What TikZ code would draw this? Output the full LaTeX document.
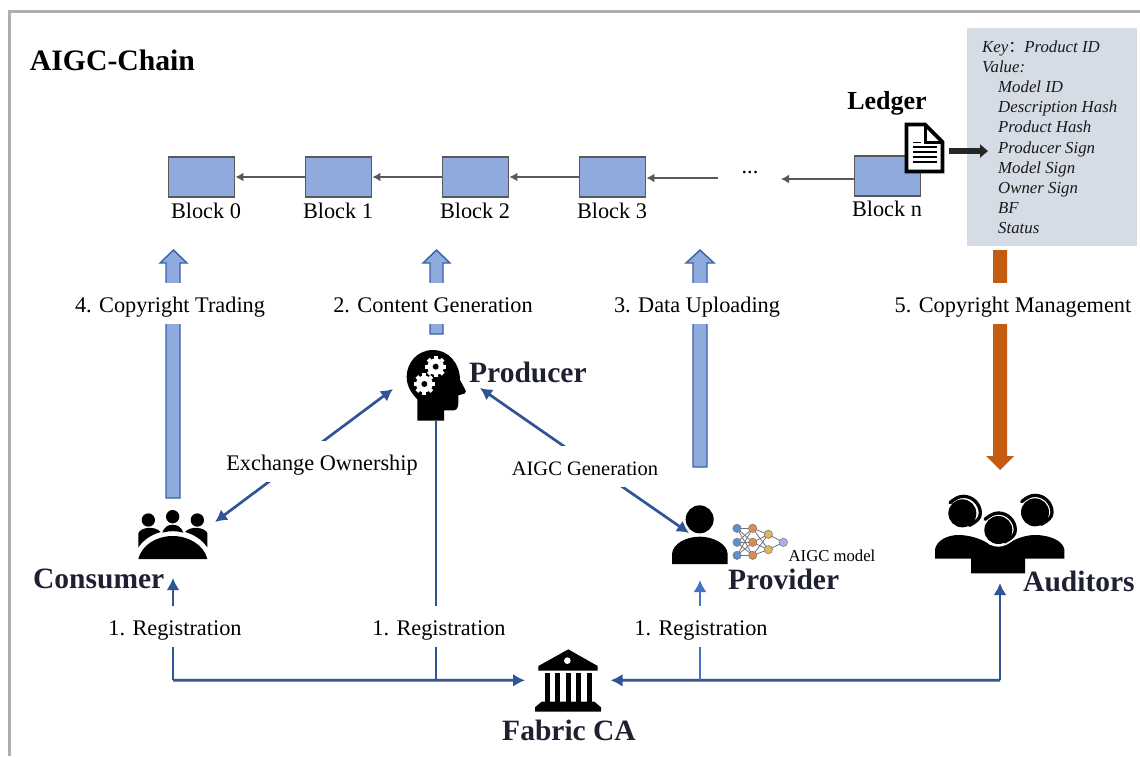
\documentclass[tikz,border=0pt]{standalone}
\usepackage{fontspec}
\setmainfont{Liberation Serif}
\newfontfamily\cjkfont{Noto Sans CJK SC}
\usetikzlibrary{arrows.meta}
\definecolor{bfill}{HTML}{8FAADC}
\definecolor{bline}{HTML}{595959}
\definecolor{conn}{HTML}{2F5597}
\definecolor{connlight}{HTML}{4472C4}
\definecolor{fatedge}{HTML}{3A62A8}
\definecolor{orangeb}{HTML}{C55A11}
\definecolor{panel}{HTML}{D6DCE5}
\definecolor{inkd}{HTML}{1F2133}
\definecolor{framec}{HTML}{AEAEAE}
\definecolor{nnblue}{HTML}{5B8FD6}
\definecolor{nnorange}{HTML}{DD8A55}
\definecolor{nnyellow}{HTML}{D9B95B}
\definecolor{nnlav}{HTML}{AFAEE8}
\newcommand{\fs}[1]{\fontsize{#1}{#1}\selectfont}
\tikzset{
 blockbox/.style={draw=bline,fill=bfill,line width=1.8pt,minimum width=66pt,minimum height=40pt,inner sep=0pt},
 blocklabel/.style={font=\fs{22.3},inner sep=0pt,anchor=center,text height=15pt,text depth=5pt},
 chainarrow/.style={draw=bline,line width=1.8pt,-{Latex[length=8pt,width=9pt]}},
 conn/.style={draw=conn,line width=2.7pt},
 ctip/.style={-{Latex[length=12pt,width=13pt]}},
 connarrow/.style={conn,ctip},
 connlabel/.style={font=\fs{22.3},fill=white,text height=19pt,text depth=2pt,inner ysep=10pt,inner xsep=3pt},
 actor/.style={font=\bfseries\fs{29.5},text=inkd,inner sep=0pt},
 fat/.style={draw=fatedge,fill=bfill,line width=1.4pt},
 fatorange/.style={fill=orangeb},
 keyline/.style={font=\itshape\fs{16.8},inner sep=0pt,anchor=base west,text=black!90},
 headset/.style={black,line width=3.3pt,line cap=round},
}
\newcommand{\gear}[3]{%
 \foreach \a in {0,45,...,315}{\fill[white,rotate around={\a:(#1,#2)}] (#1-#3*0.24,#2) rectangle (#1+#3*0.24,#2-#3*1.27);}
 \fill[white] (#1,#2) circle[radius=#3];
 \fill[black] (#1,#2) circle[radius=#3*0.36];}
\newcommand{\bandpath}{(90,68) .. controls (102,58) and (115,49) .. (130,49) .. controls (158,49) and (181,72) .. (181,100) .. controls (181,115) and (170,125) .. (148,136)}
\begin{document}
\begin{tikzpicture}[x=1pt,y=-1pt]
\useasboundingbox (0,0) rectangle (1140,756);
\fill[white] (0,0) rectangle (1140,756);
\draw[framec,line width=2.8pt] (9.5,756) -- (9.5,11.5) -- (1140,11.5);
\node[font=\bfseries\fs{29.7},inner sep=0pt] (title) at (112.5,60) {AIGC-Chain};

% fat arrows
\path[fat] (166,498) -- (166,263) -- (160,263) -- (173.5,250) -- (187,263) -- (180,263) -- (180,498) -- cycle;
\path[fat] (430,334) -- (430,263) -- (423,263) -- (436.5,250) -- (450,263) -- (443,263) -- (443,334) -- cycle;
\path[fat] (693,467) -- (693,263) -- (686,263) -- (700,250) -- (714,263) -- (707,263) -- (707,467) -- cycle;
\path[fatorange] (993,250) -- (1007,250) -- (1007,456) -- (1014,456) -- (1000,470) -- (986,456) -- (993,456) -- cycle;

% blocks
\node[blockbox] (b0) at (201.5,177) {};
\node[blockbox] (b1) at (338.5,177) {};
\node[blockbox] (b2) at (475.5,177) {};
\node[blockbox] (b3) at (612.5,177) {};
\node[blockbox] (bn) at (887.5,176) {};
\node[blocklabel] (l0) at (206,213) {Block 0};
\node[blocklabel] (l1) at (338,213) {Block 1};
\node[blocklabel] (l2) at (475,213) {Block 2};
\node[blocklabel] (l3) at (612,213) {Block 3};
\node[blocklabel] (ln) at (887,211) {Block n};
\node[font=\fs{22.3},inner sep=0pt] (dots) at (750,172) {...};
\coordinate (d1) at (718,178);
\coordinate (d2) at (781,179);
\draw[chainarrow] (b1.west) -- (b0.east);
\draw[chainarrow] (b2.west) -- (b1.east);
\draw[chainarrow] (b3.west) -- (b2.east);
\draw[chainarrow] (d1) -- (b3.east|-d1);
\draw[chainarrow] (bn.west|-d2) -- (d2);

% ledger
\node[font=\bfseries\fs{26},inner sep=0pt] (ledger) at (887,103) {Ledger};
\draw[black,fill=white,line width=3.6pt,line join=miter] (906.5,124.5) -- (925,124.5) -- (942.5,142) -- (942.5,171.5) -- (906.5,171.5) -- cycle;
\draw[black,line width=3pt] (925,124.5) -- (925,142) -- (942.5,142);
\draw[black,line width=1.8pt] (913,142.5) -- (921,142.5) (913,147) -- (937,147) (913,152) -- (937,152) (913,157) -- (937,157) (913,162) -- (937,162);
\coordinate (docout) at (949,151);
\node[fill=panel,minimum width=170pt,minimum height=218pt,inner sep=0pt] (panel) at (1052,137) {};
\coordinate (panelin) at (988,151);
\draw[black!85,line width=6pt,-{Triangle[length=8pt,width=13pt]}] (docout) -- (panelin);
\node[keyline] (k0) at (982,52) {Key{\upshape\cjkfont\fs{16}：}Product ID};
\node[keyline] (k1) at (982,72) {Value:};
\foreach \t/\y in {{Model ID}/92,{Description Hash}/112,{Product Hash}/132,{Producer Sign}/153,{Model Sign}/173,{Owner Sign}/193,{BF}/213,{Status}/233}{\node[keyline] at (998,\y) {\t};}

% producer icon
\begin{scope}[shift={(380,330)},scale=1/3]
\fill[black] (112,272) -- (192,272) -- (192,241) -- (222,241) .. controls (234,240) and (236,228) .. (235,196) -- (255,190) .. controls (260,186) and (257,180) .. (254,176) -- (240,150) .. controls (240,100) and (205,60) .. (160,60) .. controls (110,60) and (80,100) .. (80,140) .. controls (80,170) and (95,190) .. (112,208) -- cycle;
\gear{167}{110}{25}
\gear{133}{162}{25}
\end{scope}
\node[actor,anchor=west] (producer) at (469,372) {Producer};

% consumer icon
\begin{scope}[shift={(120,490)},scale=1/3]
\fill[black] (85,90) circle[radius=20] (158,80) circle[radius=20] (232,90) circle[radius=20];
\fill[black] (55,172) -- (55,130) .. controls (60,112) and (105,106) .. (122,126) .. controls (95,133) and (70,150) .. (55,172) -- cycle;
\fill[black] (262,172) -- (262,130) .. controls (257,112) and (212,106) .. (195,126) .. controls (222,133) and (247,150) .. (262,172) -- cycle;
\fill[black] (127,128) .. controls (135,96) and (181,96) .. (190,128) .. controls (170,122) and (147,122) .. (127,128) -- cycle;
\fill[black] (55,207) .. controls (65,165) and (110,138) .. (158,138) .. controls (206,138) and (252,165) .. (262,207) -- cycle;
\end{scope}
\node[actor,anchor=west] (consumer) at (33,579) {Consumer};

% provider icon
\begin{scope}[shift={(660,490)},scale=1/3]
\fill[black] (119,88) circle[radius=42];
\fill[black] (36,222) -- (36,192) .. controls (38,160) and (80,140) .. (119,140) .. controls (158,140) and (201,160) .. (203,192) -- (203,222) -- cycle;
\coordinate (a1) at (231,115); \coordinate (a2) at (231,157); \coordinate (a3) at (231,196);
\coordinate (c1) at (278,115); \coordinate (c2) at (278,157); \coordinate (c3) at (278,196);
\coordinate (e1) at (325,133); \coordinate (e2) at (325,179); \coordinate (f) at (370,157);
\foreach \p in {a1,a2,a3}{\foreach \q in {c1,c2,c3}{\draw[black!55,line width=0.8pt] (\p) -- (\q);}}
\foreach \p in {c1,c2,c3}{\foreach \q in {e1,e2}{\draw[black!55,line width=0.8pt] (\p) -- (\q);}}
\foreach \p in {e1,e2}{\draw[black!55,line width=0.8pt] (\p) -- (f);}
\foreach \p in {a1,a2,a3}{\filldraw[draw=black!50,fill=nnblue,line width=0.6pt] (\p) circle[radius=12.5];}
\foreach \p in {c1,c2,c3}{\filldraw[draw=black!50,fill=nnorange,line width=0.6pt] (\p) circle[radius=12.5];}
\foreach \p in {e1,e2}{\filldraw[draw=black!50,fill=nnyellow,line width=0.6pt] (\p) circle[radius=12.5];}
\filldraw[draw=black!50,fill=nnlav,line width=0.6pt] (f) circle[radius=12.5];
\end{scope}
\node[font=\fs{16.7},inner sep=0pt] (model) at (832,556) {AIGC model};
\node[actor,anchor=west] (provider) at (728,579) {Provider};

% auditors icon
\begin{scope}[shift={(920,480)},scale=1/3]
\fill[black] (45,236) -- (45,208) .. controls (50,180) and (85,165) .. (115,165) .. controls (150,165) and (190,178) .. (210,195) -- (258,195) .. controls (280,178) and (315,165) .. (345,165) .. controls (385,165) and (428,180) .. (433,208) -- (433,236) -- (315,236) -- (315,280) -- (153,280) -- (153,236) -- cycle;
\fill[black] (127,100) circle[radius=42];
\draw[headset] \bandpath;
\begin{scope}[shift={(215,-3)}]
\fill[black] (130,100) circle[radius=42];
\draw[headset] \bandpath;
\end{scope}
\begin{scope}[shift={(105,50)}]
\fill[white] (130,100) circle[radius=50];
\draw[white,line width=6.5pt] \bandpath;
\fill[black] (130,100) circle[radius=42];
\draw[headset] \bandpath;
\end{scope}
\end{scope}
\node[actor,anchor=west] (auditors) at (1023,581) {Auditors};

% CA icon
\begin{scope}[shift={(500,630)},scale=1/3]
\fill[black] (205,58) -- (115,108) -- (115,122) -- (293,122) -- (293,108) -- cycle;
\fill[white] (202,92) circle[radius=10];
\foreach \x in {135,165,197,228,262}{\fill[black] (\x,128) rectangle (\x+15,215);}
\fill[black] (125,215) -- (283,215) -- (303,232) -- (303,245) -- (105,245) -- (105,232) -- cycle;
\coordinate (caL) at (75,151);
\coordinate (caR) at (332,151);
\end{scope}
\node[actor] (fabric) at (569,730) {Fabric CA};

% blue connectors
\coordinate (j1) at (173,680.33);
\coordinate (j2) at (436,680.33);
\coordinate (j3) at (700,680.33);
\coordinate (j4) at (1000,680.33);
\coordinate (c1t) at (173,578);
\coordinate (c2t) at (436,421);
\coordinate (c3t) at (700,580);
\coordinate (c4t) at (1000,583);
\draw[connarrow] (j1) -- (caL);
\draw[conn,ctip] (j1) -- (c1t);
\draw[conn,line width=2.3pt] (j2) -- (c2t);
\draw[connarrow] (j4) -- (caR);
\draw[ctip,draw=connlight,line width=2.2pt] (j3) -- (c3t);
\draw[connarrow] (j4) -- (c4t);
\coordinate (ex1) at (215,522);
\coordinate (ex2) at (393,389);
\draw[conn,{Latex[length=12pt,width=13pt]}-{Latex[length=12pt,width=13pt]}] (ex1) -- (ex2);
\coordinate (ag1) at (480,388);
\coordinate (ag2) at (689,533);
\draw[conn,{Latex[length=12pt,width=13pt]}-{Latex[length=12pt,width=13pt]}] (ag1) -- (ag2);

% labels with white ground
\node[connlabel] (t1) at (170,303.5) {4. Copyright Trading};
\node[connlabel] (t2) at (433,303.5) {2. Content Generation};
\node[connlabel] (t3) at (697,303.5) {3. Data Uploading};
\node[connlabel] (t4) at (1013,303.5) {5. Copyright Management};
\node[connlabel] (t5) at (322,461.5) {Exchange Ownership};
\node[connlabel,font=\fs{20.5}] (t6) at (585,466.5) {AIGC Generation};
\node[connlabel] (t7) at (175,626.5) {1. Registration};
\node[connlabel] (t8) at (439,626.5) {1. Registration};
\node[connlabel] (t9) at (701,626.5) {1. Registration};
\end{tikzpicture}
\end{document}
